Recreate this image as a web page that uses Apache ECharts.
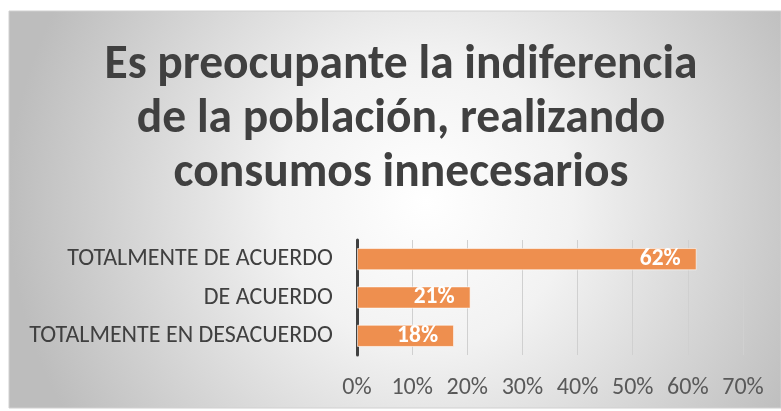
<!DOCTYPE html>
<html><head><meta charset="utf-8">
<script src="https://cdn.jsdelivr.net/npm/echarts@6/dist/echarts.min.js"></script>
<style>html,body{margin:0;padding:0;background:#fff}#c{width:781px;height:411px}</style>
</head><body><div id="c"></div>
<script>
var titleLines = ['Es preocupante la indiferencia', 'de la población, realizando', 'consumos innecesarios'];
var categories = ['TOTALMENTE EN DESACUERDO', 'DE ACUERDO', 'TOTALMENTE DE ACUERDO'];
var values = [0.176, 0.206, 0.616];
var tickValues = [0, 0.1, 0.2, 0.3, 0.4, 0.5, 0.6, 0.7];

var FONT = 'Carlito, "Open Sans", sans-serif';
var chart = echarts.init(document.getElementById('c'));
chart.setOption({
  backgroundColor: '#fff',
  animation: false,
  graphic: [{type:'rect', z:-10, silent:true, shape:{x:9,y:11,width:772,height:397},
    style:{fill:{type:'radial',x:0.54,y:0.48,r:1.05,colorStops:[{offset:0,color:'#ffffff'},{offset:0.35,color:'#f2f2f2'},{offset:1,color:'#bdbdbd'}]}, stroke:'#d0d0d0', lineWidth:1}}],
  title: {text: titleLines.join('\n'), left: 396, textAlign:'center', top: 34,
    textStyle:{fontFamily:FONT, fontWeight:'bold', fontSize:47.5, color:'#404040', lineHeight:54}},
  grid: {left: 357, right: 38, top: 240, bottom: 56},
  xAxis: {type:'value', min:tickValues[0], max:tickValues[tickValues.length-1], interval:0.1,
    axisLine:{show:false}, axisTick:{show:false},
    splitLine:{lineStyle:{color:'#d0d0d0', width:1}},
    axisLabel:{margin:21, color:'#595959', fontSize:24, fontFamily:FONT, formatter:function(v){return Math.round(v*100)+'%';}}},
  yAxis: {type:'category', data: categories,
    axisLine:{lineStyle:{color:'#404040', width:3}}, axisTick:{show:false},
    axisLabel:{margin:24, color:'#404040', fontSize:24, fontFamily:FONT}},
  series: [{type:'bar', data: values, barCategoryGap:'42%',
    itemStyle:{color:'#ee8f4f', borderColor:'rgba(255,255,255,0.6)', borderWidth:1},
    label:{show:true, position:'insideRight', color:'#fff', fontWeight:'bold', fontSize:23.5, fontFamily:FONT, distance:16,
      formatter:function(p){return Math.round(p.value*100)+'%';}}}]
});
</script></body></html>
